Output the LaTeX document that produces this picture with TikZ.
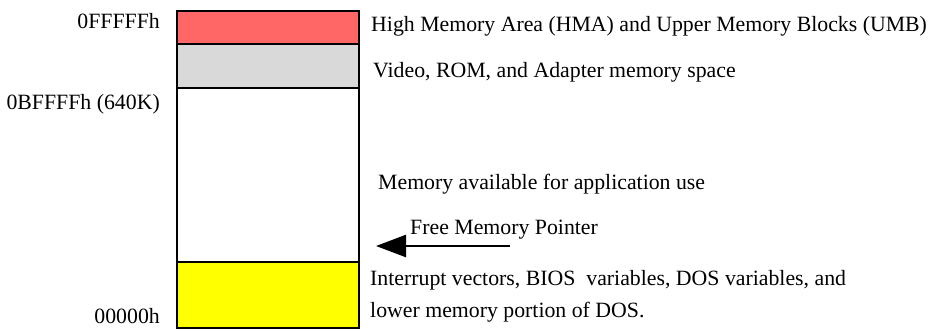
\documentclass[tikz,border=0pt]{standalone}
\usepackage{fontspec}
\setmainfont{Liberation Serif}
\usetikzlibrary{arrows.meta}
\definecolor{hmared}{HTML}{FF6666}
\definecolor{romgrey}{HTML}{D9D9D9}
\definecolor{lowyellow}{HTML}{FFFF00}
\begin{document}
\begin{tikzpicture}[x=1pt,y=-1pt,
  seg/.style={draw=black,line width=2.5pt},
  lbl/.style={font=\fontsize{21.8}{24}\selectfont,inner sep=0pt,anchor=base west},
  addr/.style={font=\fontsize{21.8}{24}\selectfont,inner sep=0pt,anchor=base east}]
\useasboundingbox (0,0) rectangle (939,330);
\path[seg,fill=hmared] (177,11) rectangle (359,44);
\path[seg,fill=romgrey] (177,44) rectangle (359,88);
\path[seg,fill=white] (177,88) rectangle (359,262);
\path[seg,fill=lowyellow] (177,262) rectangle (359,328);
\node[addr] (a1) at (160,28) {0FFFFFh};
\node[addr] (a2) at (160,109) {0BFFFFh (640K)};
\node[addr] (a3) at (160,323) {00000h};
\node[lbl] (t1) at (371,31) {High Memory Area (HMA) and Upper Memory Blocks (UMB)};
\node[lbl] (t2) at (373,77) {Video, ROM, and Adapter memory space};
\node[lbl] (t3) at (378,189) {Memory available for application use};
\node[lbl] (t4) at (410,234) {Free Memory Pointer};
\node[lbl] (t5) at (370,285) {Interrupt vectors, BIOS\ \ variables, DOS variables, and};
\node[lbl] (t6) at (370,317) {lower memory portion of DOS.};
\coordinate (pstart) at (510,246);
\coordinate (pend) at (376,246);
\draw[line width=2.5pt,-{Triangle[length=30pt,width=22pt]}] (pstart) -- (pend);
\end{tikzpicture}
\end{document}
